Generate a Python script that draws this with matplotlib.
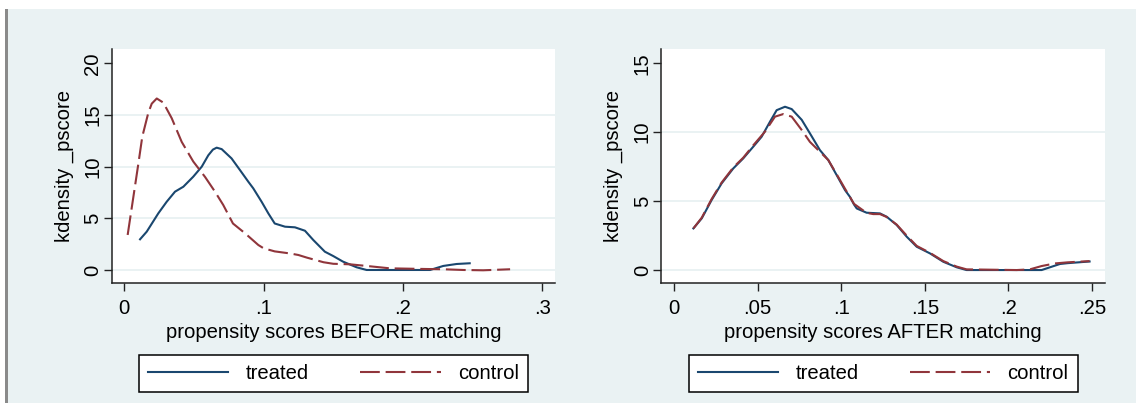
import matplotlib
matplotlib.use("Agg")
import matplotlib.pyplot as plt
from matplotlib.patches import Rectangle
from matplotlib.lines import Line2D

# kernel density of propensity scores, before matching
before_treated_x = [0.0113, 0.0161, 0.0244, 0.0304, 0.0364, 0.0424, 0.0495, 0.0556, 0.0603,
                    0.0636, 0.0663, 0.0699, 0.077, 0.083, 0.089, 0.0926, 0.0986, 0.1034,
                    0.108, 0.1154, 0.1225, 0.1297, 0.1357, 0.144, 0.150, 0.157, 0.1668,
                    0.174, 0.19, 0.205, 0.2195, 0.229, 0.2386, 0.248]
before_treated_y = [2.97, 3.71, 5.48, 6.6, 7.58, 8.06, 9.03, 10.0, 11.1,
                    11.65, 11.84, 11.7, 10.8, 9.68, 8.55, 7.9, 6.6, 5.48,
                    4.5, 4.19, 4.13, 3.8, 2.9, 1.77, 1.35, 0.81, 0.26,
                    0.0, 0.0, 0.0, 0.0, 0.39, 0.58, 0.65]

before_control_x = [0.0024, 0.0101, 0.0129, 0.0172, 0.0197, 0.0233, 0.028, 0.034, 0.0412,
                    0.0495, 0.058, 0.065, 0.071, 0.078, 0.0867, 0.0962, 0.1, 0.108,
                    0.119, 0.125, 0.131, 0.143, 0.150, 0.162, 0.174, 0.1907, 0.2027,
                    0.2146, 0.229, 0.2434, 0.2577, 0.277]
before_control_y = [3.39, 10.3, 12.9, 15.2, 16.1, 16.6, 16.2, 14.7, 12.4,
                    10.5, 9.0, 7.6, 6.3, 4.5, 3.55, 2.42, 2.1, 1.8,
                    1.6, 1.45, 1.2, 0.75, 0.6, 0.55, 0.39, 0.16, 0.13,
                    0.1, 0.07, 0.0, -0.03, 0.07]

# kernel density of propensity scores, after matching
after_treated_x = [0.0116, 0.0166, 0.0225, 0.0285, 0.0355, 0.0414, 0.0474, 0.0524, 0.0574,
                   0.0614, 0.0664, 0.0704, 0.0764, 0.0813, 0.0873, 0.0923, 0.0973, 0.1023,
                   0.1053, 0.1077, 0.1093, 0.1152, 0.1232, 0.1272, 0.1332, 0.1392, 0.1452,
                   0.1531, 0.1611, 0.1691, 0.175, 0.2199, 0.2249, 0.2309, 0.2355, 0.2486]
after_treated_y = [3.02, 3.75, 5.08, 6.29, 7.38, 8.1, 8.95, 9.67, 10.76,
                   11.6, 11.85, 11.68, 10.9, 9.92, 8.7, 7.98, 6.89, 5.8,
                   5.3, 4.75, 4.47, 4.16, 4.11, 3.87, 3.27, 2.42, 1.69,
                   1.21, 0.6, 0.2, 0.0, 0.0, 0.2, 0.44, 0.5, 0.62]

after_control_x = [0.0116, 0.0166, 0.0225, 0.0285, 0.0355, 0.0414, 0.0474, 0.0544, 0.0604,
                   0.0654, 0.0704, 0.0764, 0.0813, 0.0863, 0.0923, 0.0973, 0.1023, 0.1077,
                   0.1152, 0.1192, 0.1232, 0.1272, 0.1332, 0.1392, 0.1452, 0.1531, 0.1611,
                   0.1691, 0.175, 0.205, 0.2129, 0.2199, 0.2279, 0.2355, 0.2486]
after_control_y = [3.02, 3.8, 5.15, 6.35, 7.45, 8.15, 9.05, 10.04, 11.13,
                   11.32, 11.13, 10.16, 9.3, 8.7, 7.98, 6.95, 5.9, 4.8,
                   4.15, 4.06, 4.06, 3.85, 3.3, 2.5, 1.75, 1.25, 0.65,
                   0.25, 0.05, 0.0, 0.05, 0.29, 0.48, 0.56, 0.65]

series_labels = ["treated", "control"]
y_label = "kdensity _pscore"
x_labels = ["propensity scores BEFORE matching", "propensity scores AFTER matching"]

before_xticks = [0, 0.1, 0.2, 0.3]
before_xticklabels = ["0", ".1", ".2", ".3"]
before_yticks = [0, 5, 10, 15, 20]
after_xticks = [0, 0.05, 0.1, 0.15, 0.2, 0.25]
after_xticklabels = ["0", ".05", ".1", ".15", ".2", ".25"]
after_yticks = [0, 5, 10, 15]

NAVY = "#1a476f"
MAROON = "#90353b"
BG = "#eaf2f3"
FS = 14.6
DASH = (9.5, 2.8)

plt.rcParams["font.family"] = ["Liberation Sans", "DejaVu Sans"]

W, H = 1136, 403
fig = plt.figure(figsize=(W / 100, H / 100), dpi=100)
fig.patch.set_facecolor(BG)

# white strip on top and at the far left, with a grey bar
fig.add_artist(Rectangle((0, (H - 9) / H), 1, 9 / H, transform=fig.transFigure,
                         facecolor="white", edgecolor="none", zorder=0))
fig.add_artist(Rectangle((0, 0), 5 / W, 1, transform=fig.transFigure,
                         facecolor="white", edgecolor="none", zorder=0))
fig.add_artist(Rectangle((5 / W, 0), 2.5 / W, (H - 9) / H, transform=fig.transFigure,
                         facecolor="#8a8a8a", edgecolor="none", zorder=0))


def panel(left_px, xs_t, ys_t, xs_c, ys_c, xlim, ylim, xticks, xticklabels, yticks,
          xlabel):
    top_px, bottom_px, right_px = 49, 283, left_px + 444
    ax = fig.add_axes([left_px / W, (H - bottom_px) / H,
                       (right_px - left_px) / W, (bottom_px - top_px) / H])
    ax.set_facecolor("white")
    ax.set_xlim(*xlim)
    ax.set_ylim(*ylim)
    for s in ("top", "right"):
        ax.spines[s].set_visible(False)
    for s in ("left", "bottom"):
        ax.spines[s].set_color("#222222")
        ax.spines[s].set_linewidth(1.1)
    for yt in yticks[:-1]:
        ax.axhline(yt, color=BG, lw=1.4, zorder=1)
    ax.plot(xs_t, ys_t, color=NAVY, lw=1.5, zorder=3, solid_joinstyle="round")
    ax.plot(xs_c, ys_c, color=MAROON, lw=1.5, dashes=DASH, zorder=4)
    ax.set_xticks(xticks)
    ax.set_xticklabels(xticklabels)
    ax.set_yticks(yticks)
    ax.set_yticklabels([str(v) for v in yticks])
    ax.tick_params(axis="both", direction="out", length=5.5, width=1.0, color="#222222",
                   labelsize=FS, labelcolor="black")
    ax.tick_params(axis="x", pad=6.2)
    ax.tick_params(axis="y", pad=1.2, labelrotation=90)
    for lab in ax.get_yticklabels():
        lab.set_va("center")
    ax.set_xlabel(xlabel, fontsize=FS)
    ax.xaxis.set_label_coords(0.5, -0.236)
    ax.xaxis.label.set_va("baseline")
    ax.set_ylabel(y_label, fontsize=FS)
    ax.yaxis.set_label_coords(-0.107, 0.5)
    ax.yaxis.label.set_va("center")

    handles = [Line2D([], [], color=NAVY, lw=1.5),
               Line2D([], [], color=MAROON, lw=1.5, dashes=DASH)]
    cx = (left_px + 26 + left_px + 26 + 392) / 2 / W
    leg = fig.legend(handles, series_labels, loc="center", bbox_to_anchor=(cx, (H - 373.5) / H),
                     ncol=2, fontsize=FS, frameon=True, fancybox=False, handlelength=3.95,
                     handletextpad=0.85, columnspacing=2.55, borderpad=0.45)
    fr = leg.get_frame()
    fr.set_edgecolor("black")
    fr.set_linewidth(1.1)
    fr.set_facecolor("white")
    fr.set_alpha(1)
    return ax


panel(111.5, before_treated_x, before_treated_y, before_control_x, before_control_y,
      (-0.0092, 0.3096), (-1.26, 21.39), before_xticks, before_xticklabels, before_yticks,
      x_labels[0])
panel(661.3, after_treated_x, after_treated_y, after_control_x, after_control_y,
      (-0.0076, 0.258), (-0.94, 16.04), after_xticks, after_xticklabels, after_yticks,
      x_labels[1])

fig.savefig("out.png", dpi=100, facecolor=fig.get_facecolor())
